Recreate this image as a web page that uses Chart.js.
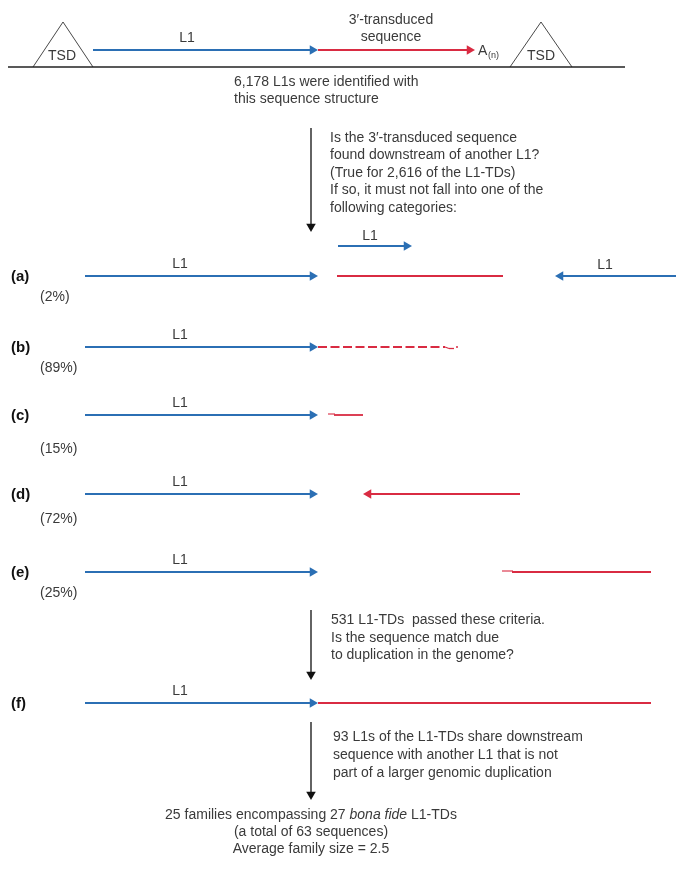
<!DOCTYPE html>
<html>
<head>
<meta charset="utf-8">
<script src="https://cdn.jsdelivr.net/npm/chart.js@4.4.1/dist/chart.umd.min.js"></script>
<style>
  body { margin: 0; background: #fff; }
  canvas { display: block; }
</style>
</head>
<body>
<canvas id="flowChart" width="685" height="875"></canvas>
<script>
// categories and their shares
const rows = ['(a)', '(b)', '(c)', '(d)', '(e)', '(f)'];
const rowShares = ['(2%)', '(89%)', '(15%)', '(72%)', '(25%)', ''];
const rowY = [276, 347, 415, 494, 572, 703];

// L1 segment (blue) and downstream match (red) per category
const l1From = [85, 85, 85, 85, 85, 85];
const l1To = [318, 318, 318, 318, 318, 318];
const redFrom = [337, 318, 334, 520, 512, 318];
const redTo = [503, 445, 363, 363, 651, 651];
const redArrow = [false, false, false, true, false, false];
const redDashed = [false, true, false, false, false, false];

// flow steps
const stepX = 311;
const stepFrom = [128, 610, 722];
const stepTo = [232, 680, 800];

const BLUE = '#2b6fb4';
const RED = '#d92b42';
const INK = '#3a3a3a';
const FONT = '"Liberation Sans", Arial, sans-serif';
const HEAD = 5.5;

function seg(x1, y1, x2, y2, color, arrowEnd, opts) {
    const ang = Math.atan2(y2 - y1, x2 - x1);
    if (arrowEnd) { x2 -= Math.cos(ang) * HEAD; y2 -= Math.sin(ang) * HEAD; }
    return Object.assign({
        data: [{x: x1, y: y1}, {x: x2, y: y2}],
        showLine: true,
        borderColor: color,
        backgroundColor: color,
        borderWidth: 1.8,
        pointStyle: 'triangle',
        pointRadius: [0, arrowEnd ? HEAD : 0],
        pointHoverRadius: 0,
        pointRotation: [0, ang * 180 / Math.PI + 90],
        pointBorderWidth: 0,
        clip: false
    }, opts || {});
}

const datasets = [];
// top structure
datasets.push(seg(8, 67, 625, 67, '#222', false, {borderWidth: 1.5}));
datasets.push(seg(93, 50, 318, 50, BLUE, true));
datasets.push(seg(318, 50, 475, 50, RED, true));
[[33, 63, 93], [510, 541, 572]].forEach(t => {
    datasets.push({
        data: [{x: t[0], y: 67}, {x: t[1], y: 22}, {x: t[2], y: 67}],
        showLine: true, borderColor: '#333', borderWidth: 0.9,
        pointRadius: 0, pointHoverRadius: 0, clip: false
    });
});
// steps
stepFrom.forEach((y, i) => datasets.push(seg(stepX, y, stepX, stepTo[i], '#111', true, {borderWidth: 1.3})));
// (a) extra L1 copies
datasets.push(seg(338, 246, 412, 246, BLUE, true));
datasets.push(seg(676, 276, 555, 276, BLUE, true));
// categories
rows.forEach((r, i) => {
    datasets.push(seg(l1From[i], rowY[i], l1To[i], rowY[i], BLUE, true));
    datasets.push(seg(redFrom[i], rowY[i], redTo[i], rowY[i], RED, redArrow[i],
        redDashed[i] ? {borderDash: [9, 3.5]} : {}));
});
// small ragged ends of the red matches
datasets.push(seg(445, 347, 449, 348.5, RED, false, {borderWidth: 1.3}));
datasets.push(seg(449, 348.5, 454, 348.5, RED, false, {borderWidth: 1.3}));
datasets.push(seg(456, 347, 458, 347, RED, false, {borderWidth: 1.3}));
datasets.push(seg(328, 414, 335, 414, RED, false, {borderWidth: 1.1}));
datasets.push(seg(502, 571, 513, 571, RED, false, {borderWidth: 1.1}));

const texts = [
    {t: 'TSD', x: 62, y: 56, a: 'center'},
    {t: 'TSD', x: 541, y: 56, a: 'center'},
    {t: 'L1', x: 187, y: 38, a: 'center'},
    {t: '3\u2032-transduced', x: 391, y: 20, a: 'center'},
    {t: 'sequence', x: 391, y: 37, a: 'center'},
    {t: 'A', x: 478, y: 51, a: 'left'},
    {t: '(n)', x: 488, y: 56, a: 'left', size: 9},
    {t: '6,178 L1s were identified with', x: 234, y: 82, a: 'left'},
    {t: 'this sequence structure', x: 234, y: 99, a: 'left'},
    {t: 'Is the 3\u2032-transduced sequence', x: 330, y: 138, a: 'left'},
    {t: 'found downstream of another L1?', x: 330, y: 155, a: 'left'},
    {t: '(True for 2,616 of the L1-TDs)', x: 330, y: 173, a: 'left'},
    {t: 'If so, it must not fall into one of the', x: 330, y: 190, a: 'left'},
    {t: 'following categories:', x: 330, y: 208, a: 'left'},
    {t: 'L1', x: 370, y: 236, a: 'center'},
    {t: 'L1', x: 605, y: 265, a: 'center'},
    {t: '531 L1-TDs  passed these criteria.', x: 331, y: 620, a: 'left'},
    {t: 'Is the sequence match due', x: 331, y: 638, a: 'left'},
    {t: 'to duplication in the genome?', x: 331, y: 655, a: 'left'},
    {t: '93 L1s of the L1-TDs share downstream', x: 333, y: 737, a: 'left'},
    {t: 'sequence with another L1 that is not', x: 333, y: 755, a: 'left'},
    {t: 'part of a larger genomic duplication', x: 333, y: 773, a: 'left'},
    {t: '(a total of 63 sequences)', x: 311, y: 832, a: 'center'},
    {t: 'Average family size = 2.5', x: 311, y: 849, a: 'center'}
];
rows.forEach((r, i) => {
    texts.push({t: r, x: 11, y: rowY[i] + 1, a: 'left', bold: true, size: 15});
    texts.push({t: 'L1', x: 180, y: rowY[i] - 12, a: 'center'});
    if (rowShares[i]) texts.push({t: rowShares[i], x: 40, y: rowY[i] + (i === 2 ? 34 : i === 3 ? 25 : 21), a: 'left'});
});

const textPlugin = {
    id: 'diagramText',
    afterDatasetsDraw(chart) {
        const c = chart.ctx;
        const xs = chart.scales.x, ys = chart.scales.y;
        c.save();
        c.fillStyle = INK;
        c.textBaseline = 'middle';
        texts.forEach(o => {
            c.font = (o.bold ? 'bold ' : '') + (o.size || 14) + 'px ' + FONT;
            c.fillStyle = o.bold ? '#111' : INK;
            c.textAlign = o.a;
            c.fillText(o.t, xs.getPixelForValue(o.x), ys.getPixelForValue(o.y));
        });
        // mixed italic line
        c.fillStyle = INK;
        const parts = [['25 families encompassing 27 ', ''], ['bona fide', 'italic '], [' L1-TDs', '']];
        let w = 0;
        parts.forEach(p => { c.font = p[1] + '14px ' + FONT; w += c.measureText(p[0]).width; });
        let px = xs.getPixelForValue(311) - w / 2;
        const py = ys.getPixelForValue(815);
        c.textAlign = 'left';
        parts.forEach(p => {
            c.font = p[1] + '14px ' + FONT;
            c.fillText(p[0], px, py);
            px += c.measureText(p[0]).width;
        });
        c.restore();
    }
};

new Chart(document.getElementById('flowChart').getContext('2d'), {
    type: 'scatter',
    data: {datasets: datasets},
    options: {
        responsive: false,
        animation: false,
        layout: {padding: 0, autoPadding: false},
        plugins: {legend: {display: false}, tooltip: {enabled: false}},
        scales: {
            x: {type: 'linear', min: 0, max: 685, display: false},
            y: {type: 'linear', min: 0, max: 875, reverse: true, display: false}
        }
    },
    plugins: [textPlugin]
});
</script>
</body>
</html>
